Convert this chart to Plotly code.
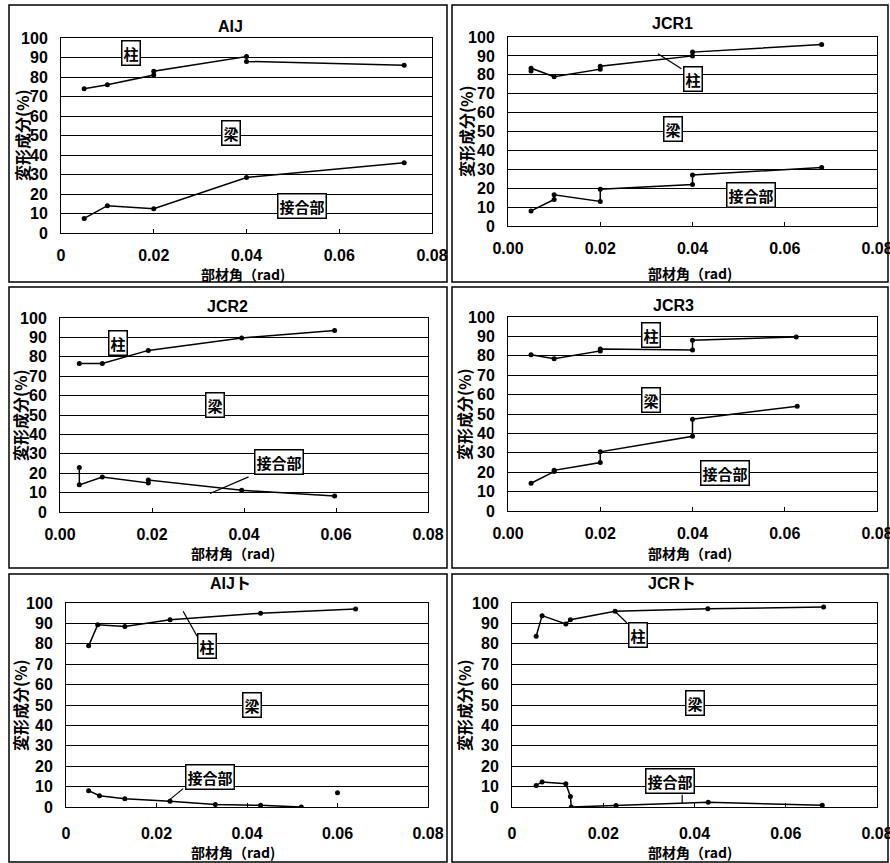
import plotly.graph_objects as go

W, H = 890, 863

# ---------------- data ----------------
panel_titles = ["AIJ", "JCR1", "JCR2", "JCR3", "AIJト", "JCRト"]
label_col = "柱"
label_beam = "梁"
label_joint = "接合部"
x_title = "部材角（rad)"
y_title = "変形成分(%)"

y_tickvals = [0, 10, 20, 30, 40, 50, 60, 70, 80, 90, 100]
x_tickvals = [0, 0.02, 0.04, 0.06, 0.08]
x_ticktext_plain = ["0", "0.02", "0.04", "0.06", "0.08"]
x_ticktext_2dp = ["0.00", "0.02", "0.04", "0.06", "0.08"]

aij_col_x = [0.005, 0.01, 0.02, 0.02, 0.04, 0.04, 0.074]
aij_col_y = [74, 76, 81, 83, 90.5, 88, 86]
aij_jt_x = [0.005, 0.01, 0.02, 0.04, 0.074]
aij_jt_y = [7.5, 14, 12.5, 28.5, 36]

jcr1_col_x = [0.005, 0.005, 0.01, 0.02, 0.02, 0.04, 0.04, 0.068]
jcr1_col_y = [82, 83.5, 79, 83, 84.5, 90, 92, 96]
jcr1_jt_x = [0.005, 0.01, 0.01, 0.02, 0.02, 0.04, 0.04, 0.068]
jcr1_jt_y = [8, 14, 16.5, 13, 19.5, 22, 27, 31]

jcr2_col_x = [0.0042, 0.0092, 0.0192, 0.0395, 0.0597]
jcr2_col_y = [76.5, 76.5, 83.3, 89.7, 93.5]
jcr2_jt_x = [0.0042, 0.0042, 0.0092, 0.0192, 0.0192, 0.0395, 0.0597]
jcr2_jt_y = [23, 14, 18, 15, 16.5, 11.2, 8.3]

jcr3_col_x = [0.005, 0.01, 0.02, 0.02, 0.04, 0.04, 0.0625]
jcr3_col_y = [80.5, 78.5, 82.5, 83.5, 83, 88, 89.7]
jcr3_jt_x = [0.005, 0.01, 0.01, 0.02, 0.02, 0.04, 0.04, 0.0627]
jcr3_jt_y = [14.3, 20.3, 21, 25, 30.5, 38.5, 47.3, 54]

aijt_col_x = [0.005, 0.007, 0.013, 0.023, 0.043, 0.064]
aijt_col_y = [79, 89.3, 88.5, 91.8, 95, 97]
aijt_jt_x = [0.005, 0.0074, 0.013, 0.023, 0.033, 0.043, 0.052]
aijt_jt_y = [8, 5.5, 4, 2.8, 1.2, 0.8, 0]
aijt_extra_x = [0.06]
aijt_extra_y = [7]

jcrt_col_x = [0.0053, 0.0066, 0.0118, 0.0128, 0.0226, 0.0429, 0.0683]
jcrt_col_y = [83.7, 93.8, 89.7, 91.8, 95.9, 97.2, 98]
jcrt_jt_x = [0.0053, 0.0066, 0.0118, 0.0128, 0.013, 0.0228, 0.043, 0.068]
jcrt_jt_y = [10.6, 12.3, 11.4, 5.2, 0, 0.7, 2.3, 0.8]

series = [
    [(aij_col_x, aij_col_y), (aij_jt_x, aij_jt_y)],
    [(jcr1_col_x, jcr1_col_y), (jcr1_jt_x, jcr1_jt_y)],
    [(jcr2_col_x, jcr2_col_y), (jcr2_jt_x, jcr2_jt_y)],
    [(jcr3_col_x, jcr3_col_y), (jcr3_jt_x, jcr3_jt_y)],
    [(aijt_col_x, aijt_col_y), (aijt_jt_x, aijt_jt_y)],
    [(jcrt_col_x, jcrt_col_y), (jcrt_jt_x, jcrt_jt_y)],
]

# ---------------- layout (pixels) ----------------
plot_px = [
    (61, 432, 38, 233),
    (508, 877, 37, 226),
    (60, 428, 318, 512),
    (508, 877, 317, 511),
    (66, 428, 603, 807),
    (512, 877, 603, 807),
]
box_px = [
    (9, 447, 5, 282),
    (452, 888, 5, 282),
    (9, 447, 287, 568),
    (452, 888, 287, 568),
    (9, 447, 574, 862),
    (452, 888, 574, 862),
]
title_px = [(230, 26), (672, 24), (227, 307), (673, 305), (230, 583), (672, 583)]
xtitle_px = [(243, 274), (690, 273), (233, 553), (690, 553), (233, 852), (690, 852)]
ytitle_px = [(22, 135), (466, 131), (20, 415), (464, 414), (20, 705), (464, 705)]
xtick_text = [x_ticktext_plain, x_ticktext_2dp, x_ticktext_2dp, x_ticktext_2dp,
              x_ticktext_plain, x_ticktext_plain]
xtick_standoff = [8, 8, 8, 8, 12, 12]
# label box positions in data coords: (col, beam, joint)
label_pos = [
    [(0.0152, 92.3), (0.0366, 51.3), (0.0519, 14)],
    [(0.0401, 78), (0.0358, 51.5), (0.0526, 16.2)],
    [(0.0127, 87), (0.0337, 55), (0.0477, 25.9)],
    [(0.0311, 90.9), (0.0309, 57.3), (0.0471, 19.4)],
    [(0.0312, 78.7), (0.0411, 50), (0.0319, 14.8)],
    [(0.0277, 84.5), (0.0401, 51), (0.0346, 12.6)],
]
leaders = [
    [],
    [((0.0325, 91.2), (0.0376, 83.2))],
    [((0.0326, 9.5), (0.041, 18.1))],
    [],
    [((0.0259, 95.9), (0.029, 83.6)), ((0.0223, 2.5), (0.0259, 9))],
    [((0.0222, 96.7), (0.0252, 90.2)), ((0.0373, 6), (0.0373, 2))],
]

FONT_NUM = "Liberation Sans, Arial, sans-serif"
FONT_JP = "Noto Sans CJK JP, sans-serif"

fig = go.Figure()
layout = dict(
    width=W, height=H,
    margin=dict(l=0, r=0, t=0, b=0, pad=0, autoexpand=False),
    paper_bgcolor="white", plot_bgcolor="white", showlegend=False,
)
annotations = []
shapes = []

for i in range(6):
    n = i + 1
    xa = "x" if n == 1 else f"x{n}"
    ya = "y" if n == 1 else f"y{n}"
    x0, x1, y0, y1 = plot_px[i]
    layout[f"xaxis{'' if n == 1 else n}"] = dict(
        domain=[x0 / W, x1 / W], anchor=ya, range=[0, 0.08],
        tickvals=x_tickvals, ticktext=xtick_text[i],
        showgrid=False, zeroline=False, showline=True, mirror=True,
        linecolor="black", linewidth=1, ticks="inside", ticklen=4,
        tickcolor="black", ticklabelstandoff=xtick_standoff[i], automargin=False,
        ticklabeloverflow="allow",
        tickfont=dict(family=FONT_NUM, size=16, color="black", weight="bold"),
    )
    layout[f"yaxis{'' if n == 1 else n}"] = dict(
        domain=[1 - y1 / H, 1 - y0 / H], anchor=xa, range=[0, 100],
        tickvals=y_tickvals, showgrid=True, gridcolor="black", gridwidth=1,
        zeroline=False, showline=True, mirror=True, linecolor="black",
        linewidth=1, ticks="", ticklabelstandoff=9, automargin=False,
        tickfont=dict(family=FONT_NUM, size=16, color="black", weight="bold"),
    )
    for sx, sy in series[i]:
        fig.add_trace(go.Scatter(
            x=sx, y=sy, mode="lines+markers", xaxis=xa, yaxis=ya,
            line=dict(color="black", width=1.5),
            marker=dict(color="black", size=5),
        ))
    if i == 4:
        fig.add_trace(go.Scatter(
            x=aijt_extra_x, y=aijt_extra_y, mode="markers", xaxis=xa, yaxis=ya,
            marker=dict(color="black", size=5),
        ))
    # panel border
    bx0, bx1, by0, by1 = box_px[i]
    shapes.append(dict(type="rect", xref="paper", yref="paper",
                       x0=bx0 / W, x1=bx1 / W, y0=1 - by1 / H, y1=1 - by0 / H,
                       line=dict(color="black", width=1.5)))
    # titles
    tx, ty = title_px[i]
    annotations.append(dict(text=panel_titles[i], xref="paper", yref="paper",
                            x=tx / W, y=1 - ty / H, showarrow=False,
                            xanchor="center", yanchor="middle",
                            font=dict(family=FONT_NUM + ", " + FONT_JP, size=16,
                                      color="black", weight="bold")))
    xx, xy = xtitle_px[i]
    annotations.append(dict(text=x_title, xref="paper", yref="paper",
                            x=xx / W, y=1 - xy / H, showarrow=False,
                            xanchor="center", yanchor="middle",
                            font=dict(family=FONT_JP, size=14, color="black",
                                      weight="bold")))
    yx, yy = ytitle_px[i]
    annotations.append(dict(text=y_title, xref="paper", yref="paper",
                            x=yx / W, y=1 - yy / H, showarrow=False,
                            textangle=-90, xanchor="center", yanchor="middle",
                            font=dict(family=FONT_JP, size=16, color="black",
                                      weight="bold")))
    # leader lines
    for (a, b) in leaders[i]:
        shapes.append(dict(type="line", xref=xa, yref=ya,
                           x0=a[0], y0=a[1], x1=b[0], y1=b[1],
                           line=dict(color="black", width=1.2)))
    # boxed labels
    for txt, (lx, ly) in zip([label_col, label_beam, label_joint], label_pos[i]):
        annotations.append(dict(text=txt, xref=xa, yref=ya, x=lx, y=ly,
                                showarrow=False, bgcolor="white",
                                bordercolor="black", borderwidth=1.5, borderpad=1,
                                font=dict(family=FONT_JP, size=15, color="black",
                                          weight="bold")))

layout["annotations"] = annotations
layout["shapes"] = shapes
fig.update_layout(**layout)
fig.write_html(
    "out.html",
    config={"displayModeBar": False},
    post_script="document.body.style.margin='0px';document.body.style.padding='0px';",
)
